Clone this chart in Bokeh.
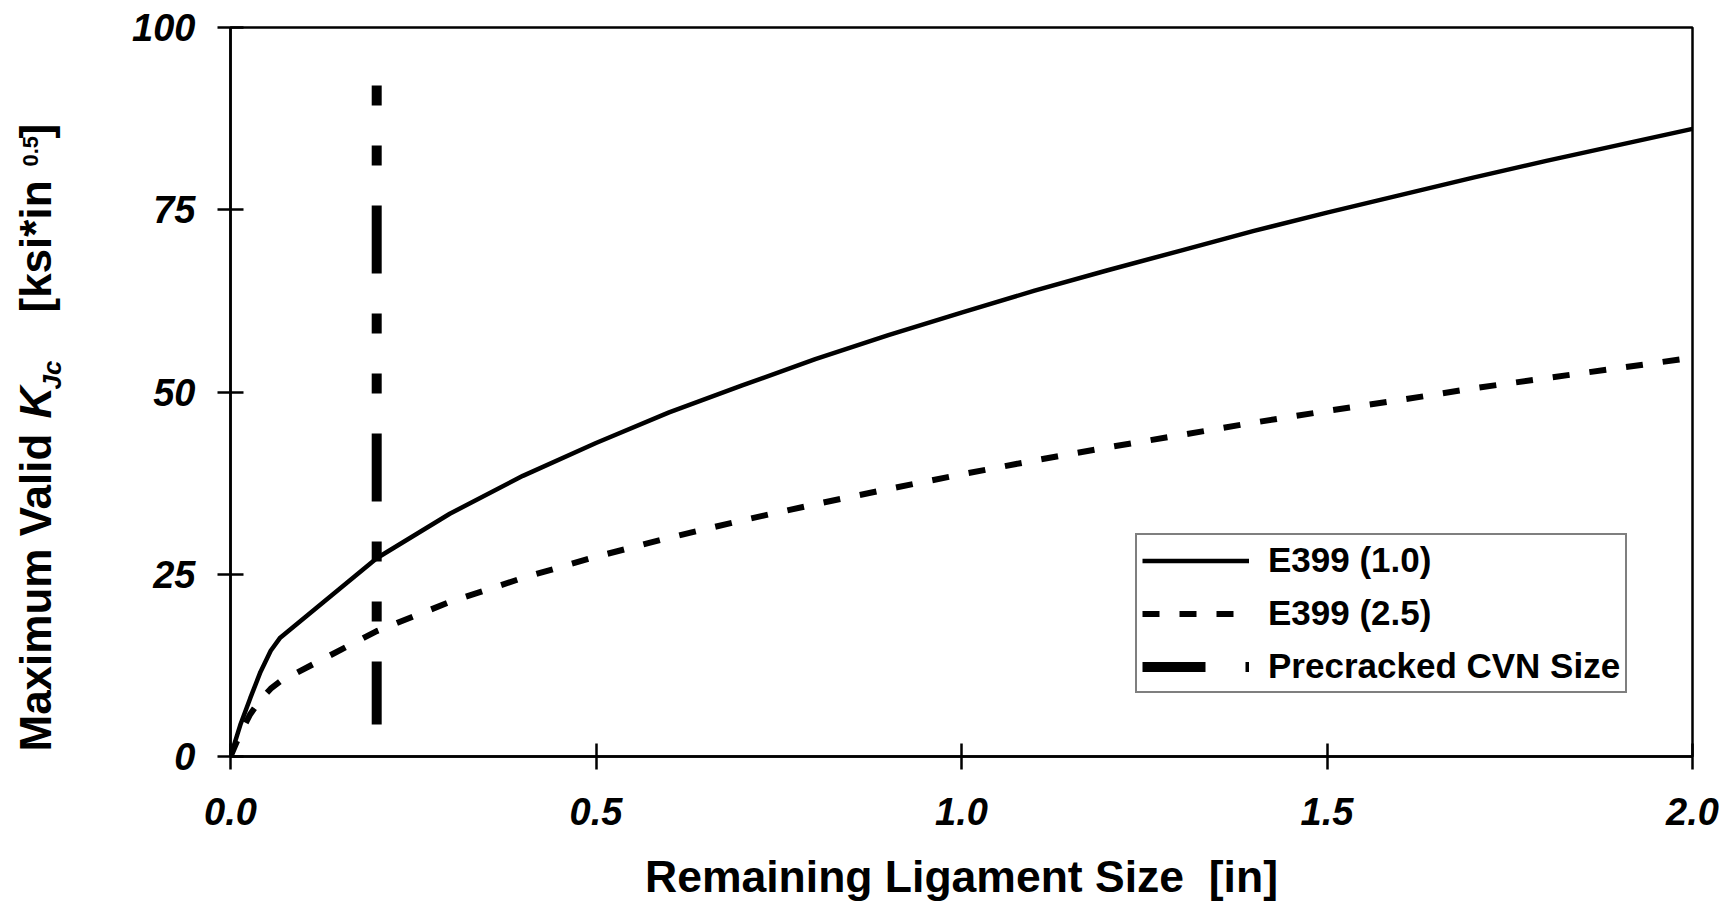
import math

from bokeh.plotting import figure
from bokeh.layouts import row
from bokeh.models import FixedTicker, Range1d, Legend, LegendItem
from bokeh.core.properties import value
from bokeh.embed import file_html
from bokeh.resources import INLINE

# Remaining ligament size [in] and the maximum valid K_Jc [ksi*in^0.5]
ligament_in = [0.0, 0.014, 0.027, 0.041, 0.055, 0.068, 0.2, 0.3, 0.4, 0.5, 0.6, 0.7,
               0.8, 0.9, 1.0, 1.1, 1.2, 1.3, 1.4, 1.5, 1.6, 1.7, 1.8, 1.9, 2.0]
kjc_e399_10 = [0.0, 4.5, 8.0, 11.6, 14.5, 16.3, 27.2, 33.3, 38.5, 43.0, 47.2, 50.9,
               54.5, 57.8, 60.9, 63.9, 66.7, 69.4, 72.1, 74.6, 77.0, 79.4, 81.7, 83.9, 86.1]
kjc_e399_25 = [0.0, 3.3, 5.8, 7.8, 9.3, 10.3, 17.2, 21.2, 24.5, 27.4, 30.0, 32.4,
               34.6, 36.7, 38.7, 40.6, 42.4, 44.1, 45.8, 47.4, 48.9, 50.5, 51.9, 53.3, 54.7]

# Precracked CVN specimen ligament
cvn_size_in = [0.2, 0.2]
cvn_kjc_span = [4.4, 92.7]

series_labels = ["E399 (1.0)", "E399 (2.5)", "Precracked CVN Size"]

x_ticks = [0.0, 0.5, 1.0, 1.5, 2.0]
x_tick_labels = ["0.0", "0.5", "1.0", "1.5", "2.0"]
y_ticks = [0, 25, 50, 75, 100]
y_tick_labels = ["0", "25", "50", "75", "100"]

x_title = "Remaining Ligament Size\u00a0\u00a0[in]"

FONT = "Liberation Sans"
PAGE_W, PAGE_H = 1719, 905
YTITLE_W = 100          # strip on the left holding the vertical title
MAIN_W = PAGE_W - YTITLE_W
LEFT, RIGHT, TOP, BOTTOM = 130, 27, 27, 149

# ---- main chart -----------------------------------------------------------
p = figure(width=MAIN_W, height=PAGE_H, x_range=Range1d(0, 2), y_range=Range1d(0, 100),
           output_backend="svg", toolbar_location=None,
           min_border_left=LEFT, min_border_right=RIGHT,
           min_border_top=TOP, min_border_bottom=BOTTOM)
p.background_fill_color = "white"
p.border_fill_color = "white"
p.outline_line_color = "black"
p.outline_line_width = 2.5
p.xgrid.visible = False
p.ygrid.visible = False

for ax in (p.xaxis[0], p.yaxis[0]):
    ax.axis_line_width = 2.5
    ax.axis_line_color = "black"
    ax.major_tick_line_width = 2.5
    ax.major_tick_line_color = "black"
    ax.major_tick_in = 13
    ax.major_tick_out = 13
    ax.minor_tick_line_color = None
    ax.major_label_text_font = FONT
    ax.major_label_text_font_style = "bold italic"
    ax.major_label_text_font_size = "38px"
    ax.major_label_text_color = "black"

p.xaxis.ticker = FixedTicker(ticks=x_ticks)
p.xaxis.major_label_overrides = dict(zip(x_ticks, x_tick_labels))
p.xaxis.major_label_standoff = 28
p.xaxis.axis_label = x_title
p.xaxis.axis_label_text_font = FONT
p.xaxis.axis_label_text_font_style = "bold"
p.xaxis.axis_label_text_font_size = "44.5px"
p.xaxis.axis_label_text_color = "black"
p.xaxis.axis_label_standoff = 24

p.yaxis.ticker = FixedTicker(ticks=y_ticks)
p.yaxis.major_label_overrides = dict(zip(y_ticks, y_tick_labels))
p.yaxis.major_label_standoff = 22

r_10 = p.line(ligament_in, kjc_e399_10, line_color="black", line_width=4.5)
r_25 = p.line(ligament_in, kjc_e399_25, line_color="black", line_width=6,
              line_dash="17 20")
r_cvn = p.line(cvn_size_in, cvn_kjc_span, line_color="black", line_width=10,
               line_dash="68 40 20 40 20 40", line_dash_offset=5)

legend = Legend(
    items=[LegendItem(label=lbl, renderers=[r])
           for lbl, r in zip(series_labels, [r_10, r_25, r_cvn])],
    location=(1135 - YTITLE_W - LEFT, 63), margin=0, padding=5, spacing=13,
    glyph_width=107, glyph_height=39, label_height=39, label_standoff=19,
    border_line_color="black", border_line_width=2.5,
    background_fill_color="white", background_fill_alpha=1.0,
    label_text_font=FONT, label_text_font_style="bold",
    label_text_font_size="35px", label_text_color="black",
)
p.add_layout(legend)

# ---- vertical axis title, with subscript and exponent ----------------------
# The strip's frame spans the same rows as the chart frame, and its y range
# is chosen so that y = PAGE_H - (pixels from the page top).
yt = figure(width=YTITLE_W, height=PAGE_H, x_range=Range1d(0, YTITLE_W),
            y_range=Range1d(BOTTOM, PAGE_H - TOP), output_backend="svg",
            toolbar_location=None, min_border_left=0, min_border_right=0,
            min_border_top=TOP, min_border_bottom=BOTTOM,
            x_axis_location=None, y_axis_location=None)
yt.outline_line_color = None
yt.grid.visible = False
yt.background_fill_color = "white"
yt.border_fill_color = "white"

title_parts = [
    # text, cross position, start y (from page top), size in px, style
    ("Maximum Valid", 35, 751, 44, "bold"),
    ("K", 35, 418, 44, "bold italic"),
    ("Jc", 51, 389, 26, "bold italic"),
    ("[ksi*in", 35, 312, 44, "bold"),
    ("0.5", 30, 166, 22, "bold"),
    ("]", 35, 138, 44, "bold"),
]
for txt, bx, sy, size, style in title_parts:
    yt.text(x=[bx], y=[PAGE_H - sy], text=[txt], angle=math.pi / 2,
            text_align="left", text_baseline="alphabetic",
            text_font=value(FONT), text_font_size=f"{size}px",
            text_font_style=style, text_color="black")

page = row(yt, p, spacing=0)
open("out.html", "w").write(file_html(page, INLINE))
